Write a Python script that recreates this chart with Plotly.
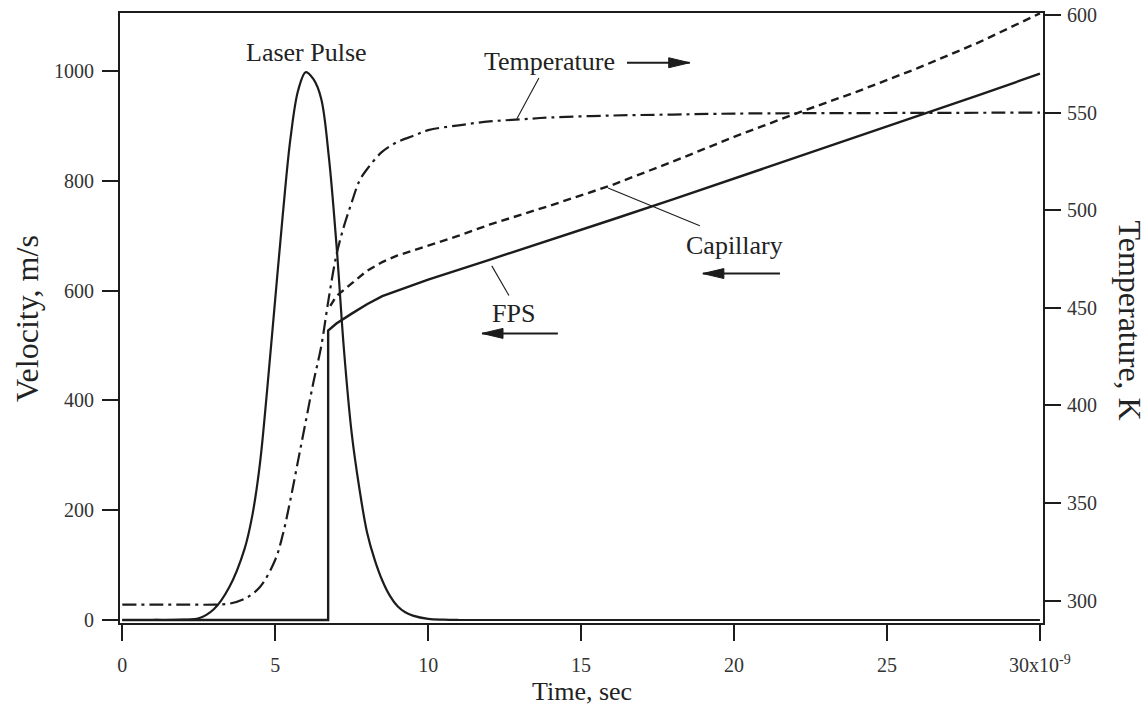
import plotly.graph_objects as go

# ---------------- data ----------------
# time axis in ns (labels show 0..30 with x10^-9 on last tick)
pulse_t = [0, 1, 2, 2.5, 3, 3.5, 4, 4.25, 4.5, 4.75, 5, 5.25, 5.5, 5.75, 6, 6.25,
           6.5, 6.75, 7, 7.25, 7.5, 7.75, 8, 8.25, 8.5, 8.75, 9, 9.25, 9.5, 10, 10.5, 11, 30]
pulse_v = [0, 0, 0.5, 3, 20, 60, 130, 190, 285, 428, 585, 740, 878, 965, 998, 985,
           950, 845, 685, 490, 340, 240, 160, 110, 72, 44, 25, 14, 8, 2, 0.5, 0, 0]

fps_t = [0, 6.73, 6.73, 7, 7.5, 8, 8.5, 9, 10, 12, 14, 16, 18, 20, 22, 24, 26, 28, 30]
fps_v = [0, 0, 527, 540, 558, 575, 590, 600, 620, 656, 692, 729, 766, 804, 842, 879, 917, 956, 995]

cap_t = [6.8, 7, 7.5, 8, 8.5, 9, 10, 11, 12, 14, 16, 18, 20, 22, 24, 26, 28, 30]
cap_v = [572, 590, 613, 636, 652, 664, 682, 700, 720, 755, 792, 835, 880, 922, 962, 1005, 1052, 1105]

temp_t = [0, 1, 2, 3, 3.5, 4, 4.5, 5, 5.25, 5.5, 5.75, 6, 6.25, 6.5, 6.75, 7, 7.25,
          7.5, 7.75, 8, 8.5, 9, 9.5, 10, 11, 12, 13, 14, 16, 18, 20, 25, 30]
temp_k = [298, 298, 298, 298, 298.5, 301, 307, 321, 334, 352, 372, 392, 412, 430, 455, 477, 492,
          504, 515, 521, 530, 535, 538, 541, 543.5, 545.5, 546.5, 547.5, 548.5, 549, 549.5, 549.8, 550]

x_tick_vals = [0, 5, 10, 15, 20, 25, 30]
x_tick_text = ["0", "5", "10", "15", "20", "25", "30x10<sup>-9</sup>"]
v_tick_vals = [0, 200, 400, 600, 800, 1000]
k_tick_vals = [300, 350, 400, 450, 500, 550, 600]

# ---------------- styling ----------------
INK = "#1c1c1c"
FONT = "Liberation Serif"

fig = go.Figure()
fig.add_trace(go.Scatter(x=pulse_t, y=pulse_v, mode="lines", line=dict(color=INK, width=2.2),
                         name="Laser Pulse", line_shape="spline"))
fig.add_trace(go.Scatter(x=fps_t, y=fps_v, mode="lines", line=dict(color=INK, width=2.4),
                         name="FPS"))
fig.add_trace(go.Scatter(x=cap_t, y=cap_v, mode="lines",
                         line=dict(color=INK, width=2.4, dash="8px,5px"), name="Capillary"))
fig.add_trace(go.Scatter(x=temp_t, y=temp_k, mode="lines", yaxis="y2",
                         line=dict(color=INK, width=2.2, dash="14px,5px,3px,5px"),
                         name="Temperature", line_shape="spline"))

axis_common = dict(showgrid=False, zeroline=False, showline=True, linewidth=2, linecolor=INK,
                   ticks="outside", ticklen=16, tickwidth=2, tickcolor=INK, automargin=False,
                   tickfont=dict(family=FONT, size=20, color="#333"))

fig.update_layout(
    width=1147, height=709,
    margin=dict(l=120, r=104, t=13, b=86),
    paper_bgcolor="white", plot_bgcolor="white",
    showlegend=False,
    font=dict(family=FONT, color=INK),
    xaxis=dict(range=[-0.075, 30.1], tickvals=x_tick_vals, ticktext=x_tick_text,
               mirror=True, ticklabelstandoff=7, **axis_common),
    yaxis=dict(range=[-5.5, 1105.6], tickvals=v_tick_vals, ticklabelstandoff=4, **axis_common),
    yaxis2=dict(range=[288.58, 601.02], tickvals=k_tick_vals, overlaying="y", side="right",
                ticklabelstandoff=2, **axis_common),
)

# axis titles
fig.add_annotation(text="Time, sec", xref="paper", yref="paper", x=0.5005, y=-0.113,
                   showarrow=False, font=dict(size=26, family=FONT, color="#222"),
                   xanchor="center", yanchor="middle")
fig.add_annotation(text="Velocity, m/s", xref="paper", yref="paper", x=-0.1008, y=0.5,
                   textangle=-90, showarrow=False, font=dict(size=32, family=FONT, color="#222"),
                   xanchor="center", yanchor="middle")
fig.add_annotation(text="Temperature, K", xref="paper", yref="paper", x=1.0943, y=0.496,
                   textangle=90, showarrow=False, font=dict(size=32, family=FONT, color="#222"),
                   xanchor="center", yanchor="middle")

# curve labels
lab_font = dict(size=26, family=FONT, color="#222")
for txt, tx, ty in [("Laser Pulse", 6.02, 1034), ("Temperature", 13.95, 1018),
                    ("Capillary", 20.0, 682), ("FPS", 12.8, 558)]:
    fig.add_annotation(text=txt, x=tx, y=ty, xref="x", yref="y", showarrow=False,
                       font=lab_font, xanchor="center", yanchor="middle")

# leader lines
for x0, y0, x1, y1 in [(13.62, 987, 12.9, 913), (15.88, 787, 18.88, 718), (12.64, 591, 12.08, 645)]:
    fig.add_shape(type="line", xref="x", yref="y", x0=x0, y0=y0, x1=x1, y1=y1,
                  line=dict(color=INK, width=1.1))

# direction arrows (tail -> tip)
for tail_x, tip_x, ay in [(16.5, 18.55, 1015), (21.5, 18.98, 631), (14.24, 11.76, 522)]:
    fig.add_shape(type="line", xref="x", yref="y", x0=tail_x, y0=ay, x1=tip_x, y1=ay,
                  line=dict(color=INK, width=2))
    d = 1 if tip_x > tail_x else -1
    fig.add_shape(type="path", xref="x", yref="y", xsizemode="pixel", ysizemode="pixel",
                  xanchor=tip_x, yanchor=ay,
                  path=f"M0,0 L{-d*21},5 L{-d*21},-5 Z",
                  fillcolor=INK, line=dict(color=INK, width=1))

fig.write_html("out.html")
